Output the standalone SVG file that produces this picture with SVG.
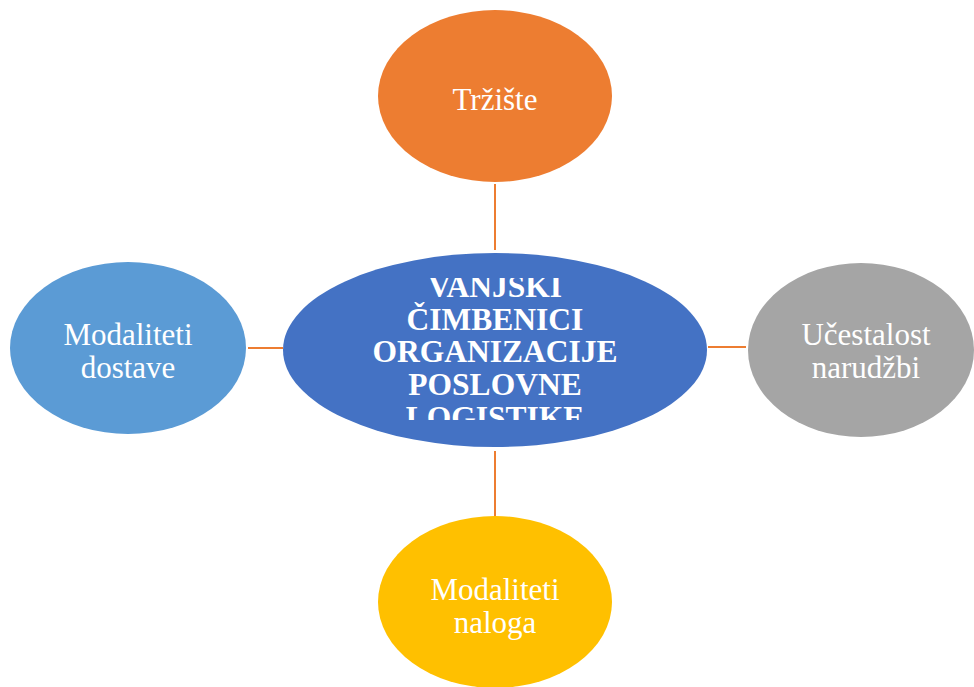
<svg xmlns="http://www.w3.org/2000/svg" width="974" height="687" viewBox="0 0 974 687">
<style>
.lbl{font-family:"Liberation Serif","Times New Roman",serif;font-size:31px;fill:#fff;text-anchor:middle}
.ctr{font-family:"Liberation Serif","Times New Roman",serif;font-size:31.5px;font-weight:bold;fill:#fff;text-anchor:middle}
.con{stroke:#ED7D31;stroke-width:2;fill:none}
</style>
<defs>
<clipPath id="cclip"><rect x="283" y="278" width="424" height="142"/></clipPath>
</defs>
<rect width="974" height="687" fill="#fff"/>
<g id="connectors">
<line class="con" x1="495" y1="184" x2="495" y2="250"/>
<line class="con" x1="495" y1="451" x2="495" y2="516"/>
<line class="con" x1="248" y1="348" x2="283" y2="348"/>
<line class="con" x1="708" y1="347" x2="746" y2="347"/>
</g>
<g id="center">
<ellipse cx="495" cy="350" rx="212" ry="97" fill="#4472C4"/>
<g clip-path="url(#cclip)">
<text class="ctr" x="495" y="297">VANJSKI</text>
<text class="ctr" x="495" y="330">ČIMBENICI</text>
<text class="ctr" x="495" y="362">ORGANIZACIJE</text>
<text class="ctr" x="495" y="395">POSLOVNE</text>
<text class="ctr" x="495" y="428">LOGISTIKE</text>
</g>
</g>
<g id="trziste">
<ellipse cx="495" cy="96" rx="117" ry="86" fill="#ED7D31"/>
<text class="lbl" x="495" y="110">Tržište</text>
</g>
<g id="dostave">
<ellipse cx="128" cy="348" rx="118" ry="86" fill="#5B9BD5"/>
<text class="lbl" x="128" y="345">Modaliteti</text>
<text class="lbl" x="128" y="378">dostave</text>
</g>
<g id="narudzbi">
<ellipse cx="861" cy="350" rx="113" ry="87" fill="#A5A5A5"/>
<text class="lbl" x="866" y="345">Učestalost</text>
<text class="lbl" x="866" y="378">narudžbi</text>
</g>
<g id="naloga">
<ellipse cx="495" cy="602" rx="117" ry="86" fill="#FFC000"/>
<text class="lbl" x="495" y="600">Modaliteti</text>
<text class="lbl" x="495" y="633">naloga</text>
</g>
</svg>
